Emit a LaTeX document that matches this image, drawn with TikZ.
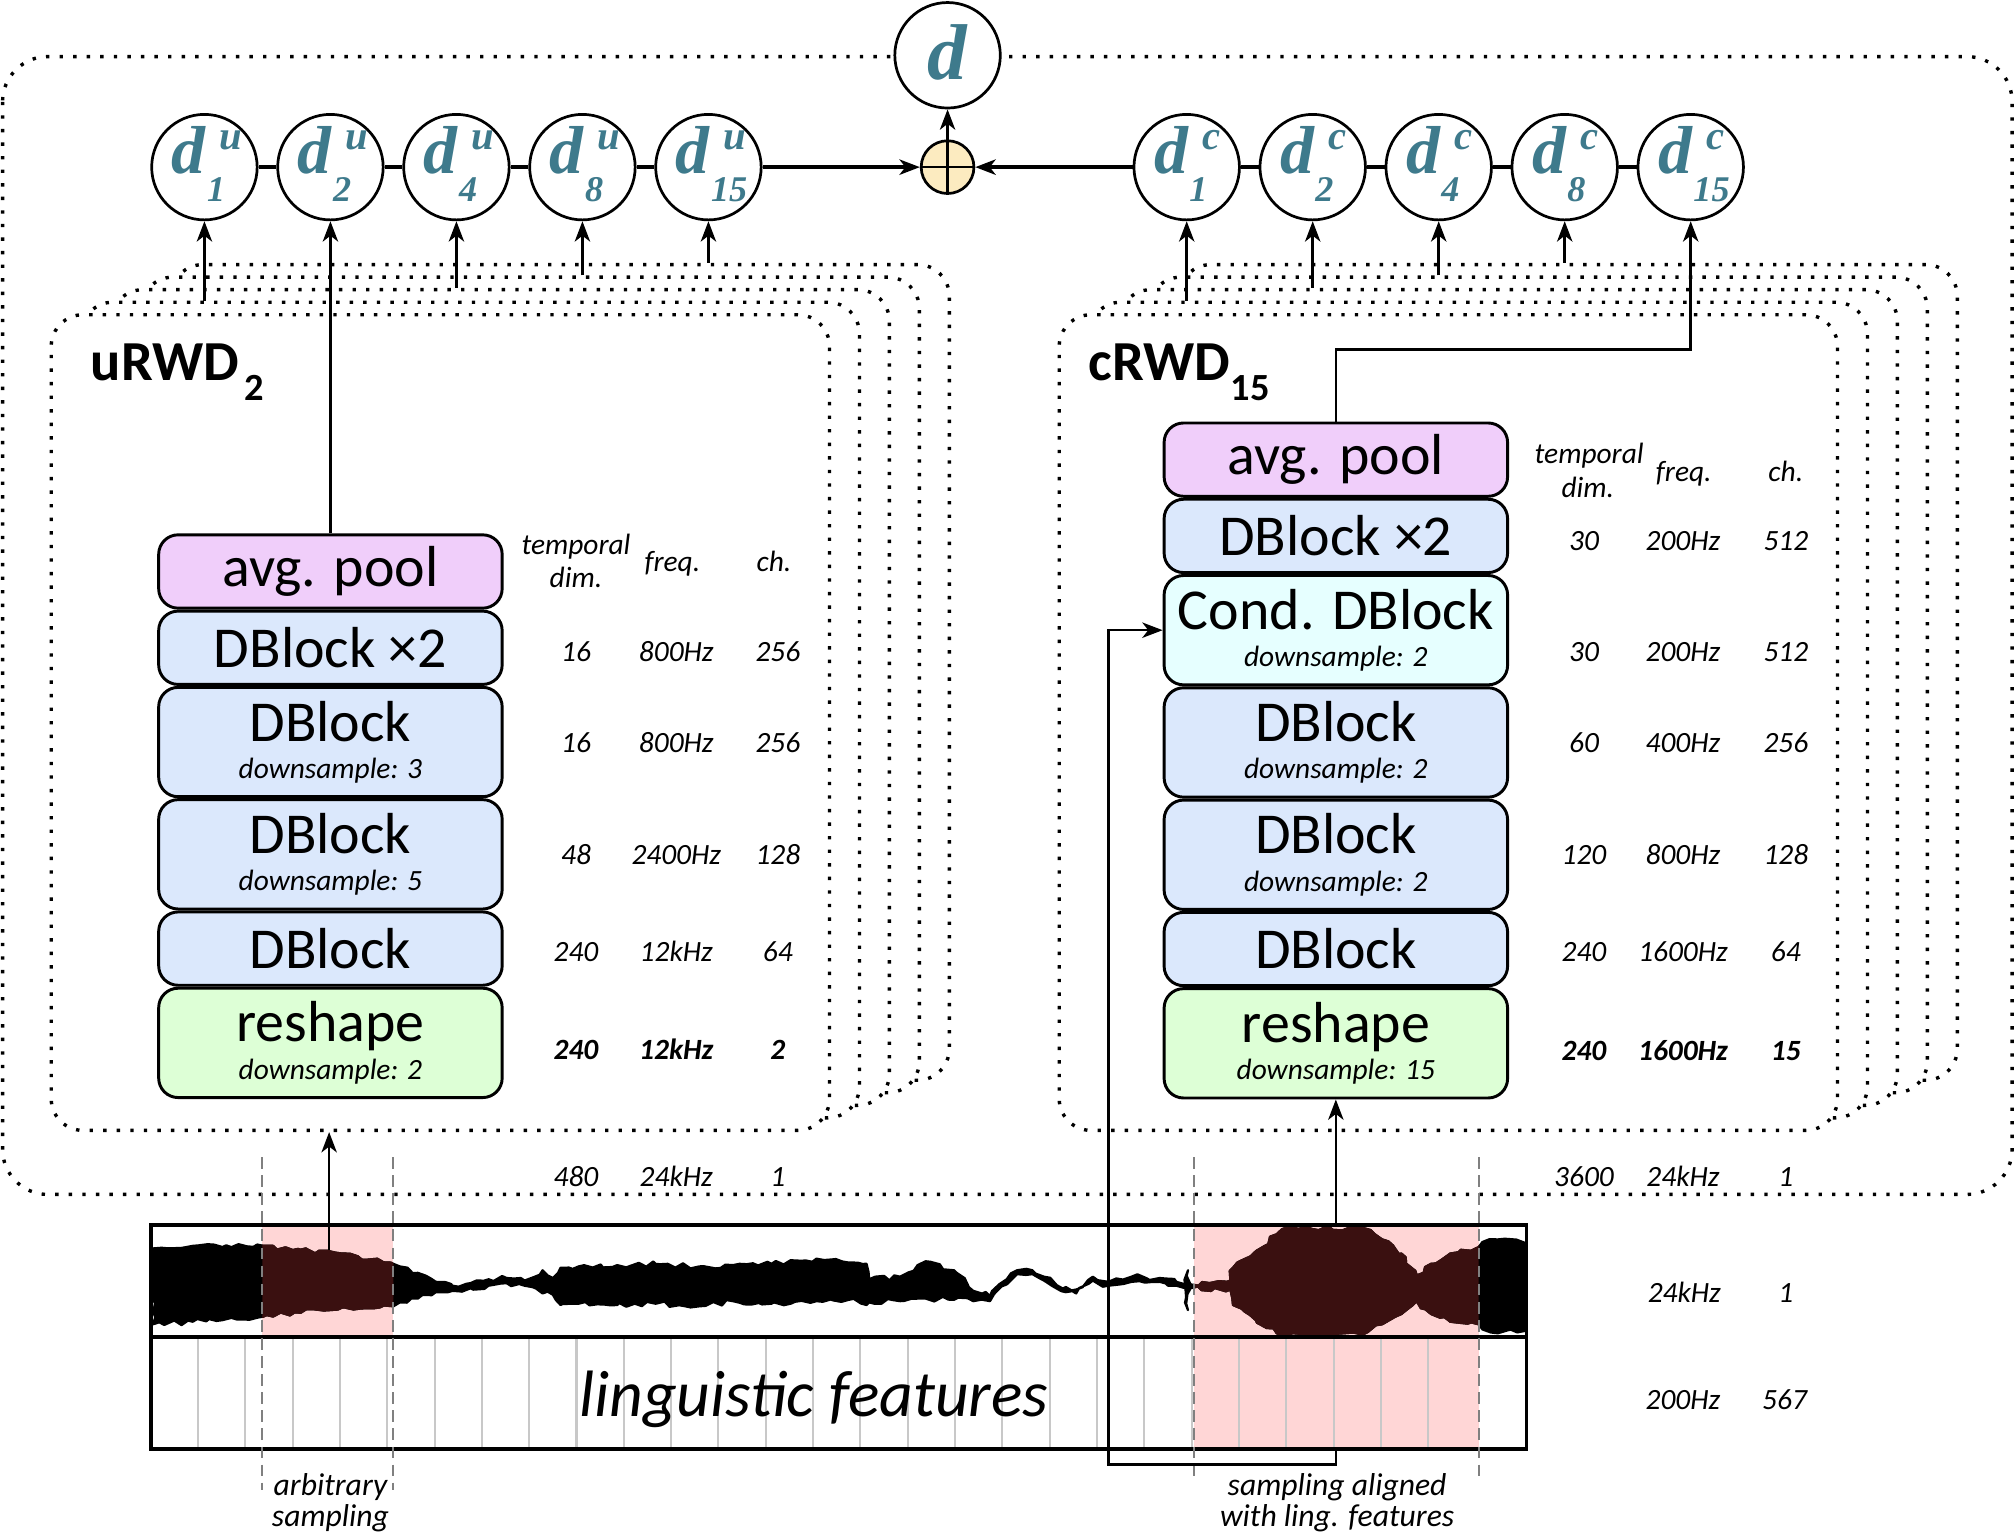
\documentclass[tikz,border=0pt]{standalone}
\usepackage{fontspec}
\setmainfont{Carlito}
\newfontfamily\dserif{Liberation Serif}
\usetikzlibrary{arrows.meta, positioning, decorations.pathmorphing}
\definecolor{dteal}{RGB}{62,122,140}
\definecolor{poolfill}{RGB}{240,206,250}
\definecolor{dblockfill}{RGB}{219,232,252}
\definecolor{condfill}{RGB}{230,255,255}
\definecolor{reshapefill}{RGB}{221,255,214}
\definecolor{plusfill}{RGB}{252,235,192}
\definecolor{samplefill}{RGB}{255,214,214}
\definecolor{wavered}{RGB}{58,16,16}
\definecolor{featgray}{RGB}{200,200,200}
\newcommand\blkfont{\fontsize{12.8}{15}\selectfont}
\newcommand\dsfont{\fontsize{6.5}{7}\selectfont\itshape}
\newcommand\tabfont{\fontsize{6.5}{7}\selectfont\itshape}
% d with superscript and subscript, centred on the node
\newcommand\dsym[2]{\smash{%
	\makebox[0pt][r]{\raisebox{-1.5pt}{\fontsize{15}{15}\selectfont d}\kern-0.3pt}%
	\makebox[0pt][l]{\kern3.4pt\raisebox{3.8pt}{\fontsize{9}{9}\selectfont #1}}%
	\makebox[0pt][l]{\kern0.6pt\raisebox{-7.6pt}{\fontsize{8}{8}\selectfont #2}}}}
\newcommand\bigd{\smash{\makebox[0pt]{\raisebox{-5.3pt}{\fontsize{17.5}{17.5}\selectfont d}}}}
% outline of the waveform
\newcommand\wavepath{(119,971) -- (150,969) -- (180,970) -- (200,968) -- (205,969) -- (234,972) -- (266,975) -- (306,983) -- (311,985) -- (325,990) -- (339,997) -- (352,1000) -- (366,998) -- (380,995) -- (394,994) -- (408,996) -- (422,988) -- (430,994) -- (436,986) -- (450,985) -- (480,984) -- (510,983) -- (544,985) -- (570,984) -- (600,983) -- (635,979) -- (660,982) -- (674,983) -- (676,995) -- (700,993) -- (720,981) -- (742,988) -- (757,1004) -- (770,1008) -- (783,995) -- (791,988) -- (803,988) -- (812,993) -- (829,1001) -- (837,1003) -- (850,993) -- (862,997) -- (880,993) -- (902,994) -- (915,997) -- (922,999) -- (924,988) -- (926,999) -- (957,996) -- (959,986) -- (977,973) -- (993,960) -- (1000,955) -- (1060,955) -- (1075,964) -- (1090,975) -- (1102,992) -- (1113,983) -- (1128,975) -- (1150,970) -- (1153,966) -- (1165,964) -- (1187,967) -- (1187,1035) -- (1165,1037) -- (1153,1034) -- (1150,1030) -- (1128,1028) -- (1113,1022) -- (1102,1012) -- (1090,1022) -- (1075,1030) -- (1060,1038) -- (1000,1039) -- (993,1037) -- (977,1027) -- (959,1015) -- (957,1003) -- (926,1002) -- (924,1019) -- (922,1002) -- (915,1000) -- (902,997) -- (880,997) -- (862,1000) -- (850,996) -- (837,1006) -- (829,1005) -- (812,996) -- (803,991) -- (791,991) -- (783,999) -- (770,1012) -- (757,1012) -- (742,1011) -- (720,1010) -- (700,1012) -- (676,1013) -- (674,1015) -- (660,1011) -- (635,1012) -- (600,1014) -- (570,1012) -- (544,1016) -- (510,1014) -- (480,1015) -- (450,1014) -- (436,1015) -- (430,1007) -- (422,1006) -- (408,1000) -- (394,998) -- (380,1000) -- (366,1002) -- (352,1004) -- (339,1005) -- (325,1010) -- (311,1013) -- (306,1016) -- (266,1017) -- (234,1021) -- (205,1024) -- (180,1025) -- (150,1028) -- (119,1030) -- cycle}
\tikzset{%
	dotline/.style={line width=0.75pt, dash pattern=on 0.75pt off 2.25pt},
	card/.style={dotline, draw, fill=white, rounded corners=7pt, minimum width=6.05cm, minimum height=6.34cm, inner sep=0pt},
	dnode/.style={circle, draw, line width=0.6pt, fill=white, minimum size=0.82cm, inner sep=0pt, text=dteal, font=\dserif\bfseries\itshape},
	plusnode/.style={circle, draw, line width=0.6pt, fill=plusfill, minimum size=0.41cm, inner sep=0pt},
	arr/.style={line width=0.55pt, -{Stealth[length=4.5pt, width=3.4pt, inset=1.3pt]}},
	chainline/.style={line width=0.75pt},
	blk/.style={draw, line width=0.65pt, rounded corners=4.3pt, minimum width=2.67cm, inner sep=1pt, align=center, font=\blkfont},
	blksmall/.style={minimum height=0.57cm},
	blklarge/.style={minimum height=0.85cm, font=\fontsize{12.8}{8.25}\selectfont},
	tabtxt/.style={font=\tabfont, inner sep=0pt, anchor=center, text height=1.5ex, text depth=.25ex},
	tabbold/.style={tabtxt, font=\tabfont\bfseries},
	featline/.style={featgray, line width=0.45pt},
	sampdash/.style={gray, line width=0.45pt, dash pattern=on 2.6pt off 1.4pt},
	capt/.style={font=\fontsize{7}{6.8}\selectfont\itshape, align=center, inner sep=0pt},
	rwd/.style={anchor=base west, inner sep=0pt, font=\fontsize{12.5}{12.5}\selectfont\bfseries},
	wavestyle/.style={line width=0.5pt, line join=round, decorate, decoration={random steps, segment length=1.5pt, amplitude=0.6pt}},
}
\begin{document}
\begin{tikzpicture}[x=0.01cm, y=-0.01cm]
	\useasboundingbox (0,0) rectangle (1568,1194);
	
	% outer frame
	\draw[dotline, rounded corners=10pt] (2,44) rectangle (1565,929);
	
	% stacks of random window discriminators
	\foreach \k in {4,3,2,1,0} {
		\node[card] (lcard\k) at ({342.5+23.3*\k},{562-9.75*\k}) {};
		\node[card] (rcard\k) at ({1126.5+23.3*\k},{562-9.75*\k}) {};
	}
	
	% discriminator outputs
	\node[dnode] (dout) at (737,43) {\bigd};
	\node[plusnode] (plus) at (737,130) {};
	\draw[line width=0.6pt] (plus.north) -- (plus.south) (plus.west) -- (plus.east);
	\foreach \s [count=\i] in {1,2,4,8,15} {
		\node[dnode] (du\s) at ({159+98*(\i-1)},130) {\dsym{u}{\s}};
		\node[dnode] (dc\s) at ({923+98*(\i-1)},130) {\dsym{c}{\s}};
	}
	\foreach \a/\b in {1/2,2/4,4/8,8/15} {
		\draw[chainline] (du\a) -- (du\b);
		\draw[chainline] (dc\a) -- (dc\b);
	}
	\draw[arr, line width=0.75pt] (du15) -- (plus);
	\draw[arr, line width=0.75pt] (dc1) -- (plus);
	\draw[arr] (plus) -- (dout);
	\foreach \s/\k in {1/1,4/2,8/3,15/4}
		\draw[arr] (lcard\k.north -| du\s) -- (du\s);
	\foreach \s/\k in {1/1,2/2,4/3,8/4}
		\draw[arr] (rcard\k.north -| dc\s) -- (dc\s);
	
	% labels of the front windows
	\node[rwd] (ulabel) at (70,296) {uRWD\kern1pt\raisebox{-4.3pt}{\fontsize{8.5}{8.5}\selectfont 2}};
	\node[rwd] (clabel) at (846,296) {cRWD\raisebox{-4.3pt}{\fontsize{8.5}{8.5}\selectfont 15}};
	
	% uRWD blocks
	\node[blk, blksmall, fill=poolfill] (lpool) at (257,444.5) {avg. pool};
	\node[blk, blksmall, fill=dblockfill, below=0pt of lpool] (ldbx) {DBlock ×2};
	\node[blk, blklarge, fill=dblockfill, below=0pt of ldbx] (lds3) {DBlock\\{\dsfont downsample: 3}};
	\node[blk, blklarge, fill=dblockfill, below=0pt of lds3] (lds5) {DBlock\\{\dsfont downsample: 5}};
	\node[blk, blksmall, fill=dblockfill, below=0pt of lds5] (ldb) {DBlock};
	\node[blk, blklarge, fill=reshapefill, below=0pt of ldb] (lreshape) {reshape\\{\dsfont downsample: 2}};
	
	% cRWD blocks
	\node[blk, blksmall, fill=poolfill] (rpool) at (1039,357.5) {avg. pool};
	\node[blk, blksmall, fill=dblockfill, below=0pt of rpool] (rdbx) {DBlock ×2};
	\node[blk, blklarge, fill=condfill, below=0pt of rdbx] (rcond) {Cond. DBlock\\{\dsfont downsample: 2}};
	\node[blk, blklarge, fill=dblockfill, below=0pt of rcond] (rdsa) {DBlock\\{\dsfont downsample: 2}};
	\node[blk, blklarge, fill=dblockfill, below=0pt of rdsa] (rdsb) {DBlock\\{\dsfont downsample: 2}};
	\node[blk, blksmall, fill=dblockfill, below=0pt of rdsb] (rdb) {DBlock};
	\node[blk, blklarge, fill=reshapefill, below=0pt of rdb] (rreshape) {reshape\\{\dsfont downsample: 15}};
	
	% shapes of the tensors, uRWD
	\node[tabtxt] (lhtemp) at (448,420.5) {temporal};
	\node[tabtxt] (lhdim) at (448,446.5) {dim.};
	\node[tabtxt] (lhfreq) at (523,434) {freq.};
	\node[tabtxt] (lhch) at (602,434) {ch.};
	\foreach \yy/\ta/\fb/\cc [count=\i] in {504/16/800Hz/256, 575/16/800Hz/256, 662/48/2400Hz/128, 737.5/240/12kHz/64, 912/480/24kHz/1} {
		\node[tabtxt] (lt\i) at (448,\yy) {\ta};
		\node[tabtxt] (lf\i) at (526,\yy) {\fb};
		\node[tabtxt] (lc\i) at (605,\yy) {\cc};
	}
	\node[tabbold] (ltb) at (448,813.5) {240};
	\node[tabbold] (lfb) at (526,813.5) {12kHz};
	\node[tabbold] (lcb) at (605,813.5) {2};
	
	% shapes of the tensors, cRWD
	\node[tabtxt] (rhtemp) at (1236,350) {temporal};
	\node[tabtxt] (rhdim) at (1235,376.4) {dim.};
	\node[tabtxt] (rhfreq) at (1309.6,364) {freq.};
	\node[tabtxt] (rhch) at (1389,364) {ch.};
	\foreach \yy/\ta/\fb/\cc [count=\i] in {418/30/200Hz/512, 504/30/200Hz/512, 575/60/400Hz/256, 662/120/800Hz/128, 737.5/240/1600Hz/64, 912.5/3600/24kHz/1} {
		\node[tabtxt] (rt\i) at (1232,\yy) {\ta};
		\node[tabtxt] (rf\i) at (1309,\yy) {\fb};
		\node[tabtxt] (rc\i) at (1389,\yy) {\cc};
	}
	\node[tabbold] (rtb) at (1232,814) {240};
	\node[tabbold] (rfb) at (1309,814) {1600Hz};
	\node[tabbold] (rcb) at (1389,814) {15};
	\node[tabtxt] (wavefreq) at (1310,1002.7) {24kHz};
	\node[tabtxt] (wavech) at (1389,1002.7) {1};
	\node[tabtxt] (lingfreq) at (1309,1086) {200Hz};
	\node[tabtxt] (lingch) at (1388,1086) {567};
	
	% waveform and linguistic features
	\node[minimum width=10.69cm, minimum height=0.87cm, inner sep=0pt, outer sep=0pt] (wave) at (652.5,996.5) {};
	\node[minimum width=10.69cm, minimum height=0.87cm, inner sep=0pt, outer sep=0pt, below=0pt of wave] (ling) {};
	\fill[samplefill] (204,953) rectangle (306,1040);
	\fill[samplefill] (929,953) rectangle (1150,1127);
	\foreach \k in {0,...,26}
		\draw[featline] ({154+36.8*\k},1040) -- ++(0,87);
	\begin{scope}
		\clip (wave.north west) rectangle (wave.south east);
		\pgfmathsetseed{11}
		\filldraw[black, wavestyle] \wavepath;
	\end{scope}
	\begin{scope}
		\clip (204,953) rectangle (306,1040) (929,953) rectangle (1150,1040);
		\pgfmathsetseed{11}
		\filldraw[wavered, wavestyle] \wavepath;
	\end{scope}
	\draw[line width=0.85pt] (wave.north west) rectangle (ling.south east);
	\draw[line width=0.85pt] (wave.south west) -- (wave.south east);
	\node[font=\fontsize{14.5}{14.5}\selectfont\itshape, anchor=base, inner sep=0pt] (lingtxt) at (633,1102) {linguistic features};
	
	% sampled windows
	\foreach \xx/\yb in {204/1159, 306/1159, 929/1148, 1150/1148}
		\draw[sampdash] (\xx,900) -- (\xx,\yb);
	\node[capt] (arbtxt) at (257,1169) {arbitrary\\sampling};
	\node[capt] (aligntxt) at (1040,1169) {sampling aligned\\with ling. features};
	
	% connections
	\coordinate (lsample) at (256,972);
	\coordinate (condtap) at (862,1139);
	\draw[arr] (lsample) -- (lsample |- lcard0.south);
	\draw[arr] (wave.north -| rreshape) -- (rreshape.south);
	\draw[arr] (ling.south -| rreshape) |- (condtap) |- (rcond.west);
	\draw[arr] (lpool.north) -- (lpool.north |- du2.south);
	\draw[arr] (rpool.north) -- ++(0,-56) -| (dc15.south);
\end{tikzpicture}
\end{document}
